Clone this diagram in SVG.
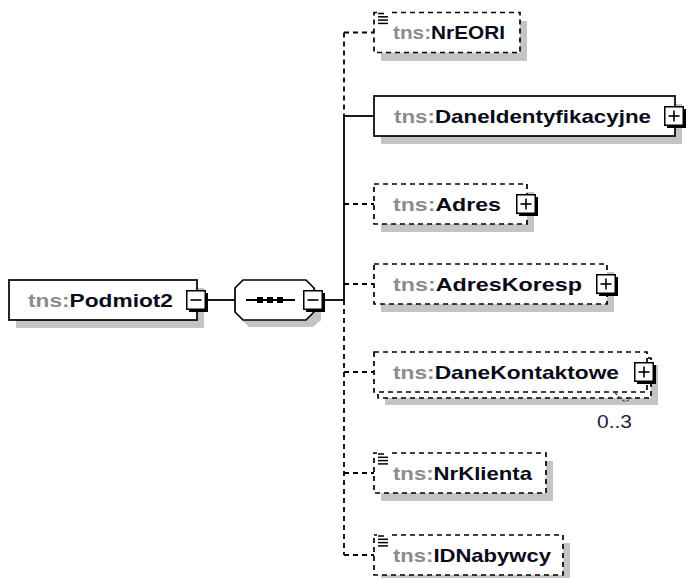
<svg xmlns="http://www.w3.org/2000/svg" xmlns:xlink="http://www.w3.org/1999/xlink" width="688" height="578" viewBox="0 0 688 578">
<style>
.sh{fill:#c4c4c4;stroke:none}
.box{fill:#fff;stroke:#000;stroke-width:1.7}
.dbox{fill:#fff;stroke:#000;stroke-width:1.7;stroke-dasharray:5,4}
.ln{fill:none;stroke:#000;stroke-width:1.8}
.dln{fill:none;stroke:#000;stroke-width:1.8;stroke-dasharray:5,4}
.lbl{font-family:"Liberation Sans",Arial,sans-serif;font-size:18.5px;font-weight:bold}
.pre{fill:#8c8c8c}
.nm{fill:#0a0a1a}
.occ{font-family:"Liberation Sans",Arial,sans-serif;font-size:19px;fill:#202040}
.ico{stroke:#000;stroke-width:1.5}
</style>
<defs>
<g id="btnPlus">
<rect x="3" y="3" width="19" height="19" fill="#000"/>
<rect x="0.75" y="0.75" width="18.5" height="18.5" fill="#fff" stroke="#000" stroke-width="1.5"/>
<line x1="4.5" y1="10" x2="15.5" y2="10" stroke="#000" stroke-width="1.6"/>
<line x1="10" y1="4.5" x2="10" y2="15.5" stroke="#000" stroke-width="1.6"/>
</g>
<g id="btnMinus">
<rect x="3" y="3" width="19" height="19" fill="#000"/>
<rect x="0.75" y="0.75" width="18.5" height="18.5" fill="#fff" stroke="#000" stroke-width="1.5"/>
<line x1="4.5" y1="10" x2="15.5" y2="10" stroke="#000" stroke-width="1.6"/>
</g>
<g id="simpleIcon">
<rect x="-1" y="-2" width="13" height="4" fill="#fff"/>
<line class="ico" x1="0" y1="0.5" x2="6" y2="0.5"/>
<line class="ico" x1="0" y1="3.8" x2="10" y2="3.8"/>
<line class="ico" x1="0" y1="7.1" x2="10" y2="7.1"/>
<line class="ico" x1="0" y1="10.4" x2="10" y2="10.4"/>
</g>
</defs>

<g id="connectors">
<line class="ln" x1="207" y1="300" x2="235" y2="300"/>
<line class="ln" x1="324" y1="300" x2="344" y2="300"/>
<line class="dln" x1="344" y1="32.5" x2="344" y2="116"/>
<line class="ln" x1="344" y1="116" x2="344" y2="300"/>
<line class="dln" x1="344" y1="300" x2="344" y2="555"/>
<line class="dln" x1="344" y1="32.5" x2="374" y2="32.5"/>
<line class="ln" x1="344" y1="116" x2="374" y2="116"/>
<line class="dln" x1="344" y1="204" x2="374" y2="204"/>
<line class="dln" x1="344" y1="284" x2="374" y2="284"/>
<line class="dln" x1="344" y1="372" x2="374" y2="372"/>
<line class="dln" x1="344" y1="473" x2="374" y2="473"/>
<line class="dln" x1="344" y1="555" x2="374" y2="555"/>
</g>

<g id="node-Podmiot2">
<rect class="sh" x="16" y="288" width="188" height="40"/>
<rect class="box" x="9" y="280" width="188" height="40"/>
<text class="lbl" x="28" y="306.5" textLength="145" lengthAdjust="spacingAndGlyphs"><tspan class="pre">tns:</tspan><tspan class="nm">Podmiot2</tspan></text>
<use xlink:href="#btnMinus" x="186" y="290"/>
</g>

<g id="node-sequence">
<polygon class="sh" points="249,287 314,287 321,294 321,320 313,327 249,327 241,319 241,295"/>
<polygon class="box" points="243,280 306,280 314,288 314,312 306,320 243,320 235,312 235,288"/>
<line class="ln" x1="246" y1="300" x2="295" y2="300"/>
<rect x="257" y="297" width="6" height="6" fill="#000"/>
<rect x="267" y="297" width="6" height="6" fill="#000"/>
<rect x="277" y="297" width="6" height="6" fill="#000"/>
<use xlink:href="#btnMinus" x="303" y="290"/>
</g>

<g id="node-NrEORI">
<rect class="sh" x="381" y="21" width="146" height="40"/>
<rect class="dbox" x="374" y="12.5" width="146" height="40"/>
<use xlink:href="#simpleIcon" x="378" y="13"/>
<text class="lbl" x="393" y="39" textLength="112" lengthAdjust="spacingAndGlyphs"><tspan class="pre">tns:</tspan><tspan class="nm">NrEORI</tspan></text>
</g>

<g id="node-DaneIdentyfikacyjne">
<rect class="sh" x="381" y="104" width="301" height="40"/>
<rect class="box" x="374" y="96" width="301" height="40"/>
<text class="lbl" x="394" y="122.5" textLength="257" lengthAdjust="spacingAndGlyphs"><tspan class="pre">tns:</tspan><tspan class="nm">DaneIdentyfikacyjne</tspan></text>
<use xlink:href="#btnPlus" x="664" y="106"/>
</g>

<g id="node-Adres">
<rect class="sh" x="381" y="192" width="153" height="40"/>
<rect class="dbox" x="374" y="184" width="153" height="40"/>
<text class="lbl" x="393" y="210.5" textLength="108" lengthAdjust="spacingAndGlyphs"><tspan class="pre">tns:</tspan><tspan class="nm">Adres</tspan></text>
<use xlink:href="#btnPlus" x="516" y="194"/>
</g>

<g id="node-AdresKoresp">
<rect class="sh" x="381" y="272" width="233" height="40"/>
<rect class="dbox" x="374" y="264" width="233" height="40"/>
<text class="lbl" x="393" y="290.5" textLength="189" lengthAdjust="spacingAndGlyphs"><tspan class="pre">tns:</tspan><tspan class="nm">AdresKoresp</tspan></text>
<use xlink:href="#btnPlus" x="596" y="274"/>
</g>

<g id="node-DaneKontaktowe">
<rect class="sh" x="385" y="365" width="273" height="40"/>
<rect class="dbox" x="378" y="358" width="273" height="40"/>
<rect class="dbox" x="374" y="352" width="273" height="40"/>
<text class="lbl" x="393" y="378.5" textLength="226" lengthAdjust="spacingAndGlyphs"><tspan class="pre">tns:</tspan><tspan class="nm">DaneKontaktowe</tspan></text>
<use xlink:href="#btnPlus" x="634" y="362"/>
<polyline points="615,393 625,402 632,398" fill="none" stroke="#555" stroke-width="1.4" stroke-dasharray="3,2"/>
<text class="occ" x="597" y="427.5" textLength="35" lengthAdjust="spacingAndGlyphs">0..3</text>
</g>

<g id="node-NrKlienta">
<rect class="sh" x="381" y="461" width="172" height="40"/>
<rect class="dbox" x="374" y="453" width="172" height="40"/>
<use xlink:href="#simpleIcon" x="378" y="453.5"/>
<text class="lbl" x="393" y="479.5" textLength="139" lengthAdjust="spacingAndGlyphs"><tspan class="pre">tns:</tspan><tspan class="nm">NrKlienta</tspan></text>
</g>

<g id="node-IDNabywcy">
<rect class="sh" x="381" y="543" width="189" height="40"/>
<rect class="dbox" x="374" y="535" width="189" height="40"/>
<use xlink:href="#simpleIcon" x="378" y="535.5"/>
<text class="lbl" x="393" y="561.5" textLength="158" lengthAdjust="spacingAndGlyphs"><tspan class="pre">tns:</tspan><tspan class="nm">IDNabywcy</tspan></text>
</g>
</svg>
